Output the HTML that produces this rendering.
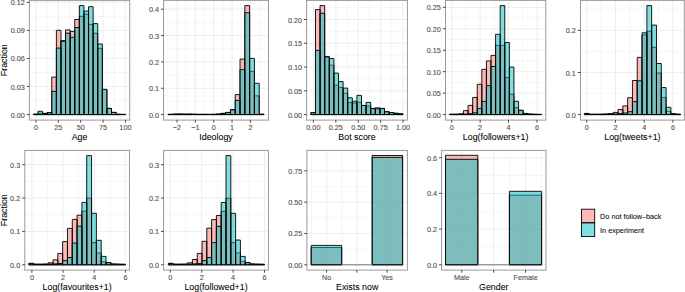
<!DOCTYPE html>
<html><head><meta charset="utf-8"><title>Histograms</title><style>html,body{margin:0;padding:0;background:#fff;width:685px;height:292px;overflow:hidden}svg{display:block}</style></head><body>
<svg width="685" height="292" viewBox="0 0 685 292">
<style>text{font-family:"Liberation Sans",sans-serif}.lab{font-size:7.25px;fill:#4D4D4D;stroke:#4D4D4D;stroke-width:0.1px}.ttl{font-size:8.85px;fill:#000;stroke:#000;stroke-width:0.06px}.leg{font-size:7.25px;fill:#000;stroke:#000;stroke-width:0.05px}</style>
<rect width="685" height="292" fill="#fff"/>
<rect x="29.4" y="0.4" width="100.3" height="119.7" fill="#fff"/>
<line x1="47.17" y1="0.4" x2="47.17" y2="120.1" stroke="#EBEBEB" stroke-width="0.45"/>
<line x1="69.53" y1="0.4" x2="69.53" y2="120.1" stroke="#EBEBEB" stroke-width="0.45"/>
<line x1="91.88" y1="0.4" x2="91.88" y2="120.1" stroke="#EBEBEB" stroke-width="0.45"/>
<line x1="114.23" y1="0.4" x2="114.23" y2="120.1" stroke="#EBEBEB" stroke-width="0.45"/>
<line x1="29.4" y1="100.56" x2="129.7" y2="100.56" stroke="#EBEBEB" stroke-width="0.45"/>
<line x1="29.4" y1="72.49" x2="129.7" y2="72.49" stroke="#EBEBEB" stroke-width="0.45"/>
<line x1="29.4" y1="44.41" x2="129.7" y2="44.41" stroke="#EBEBEB" stroke-width="0.45"/>
<line x1="29.4" y1="16.34" x2="129.7" y2="16.34" stroke="#EBEBEB" stroke-width="0.45"/>
<line x1="36" y1="0.4" x2="36" y2="120.1" stroke="#EBEBEB" stroke-width="0.9"/>
<line x1="58.35" y1="0.4" x2="58.35" y2="120.1" stroke="#EBEBEB" stroke-width="0.9"/>
<line x1="80.7" y1="0.4" x2="80.7" y2="120.1" stroke="#EBEBEB" stroke-width="0.9"/>
<line x1="103.05" y1="0.4" x2="103.05" y2="120.1" stroke="#EBEBEB" stroke-width="0.9"/>
<line x1="125.4" y1="0.4" x2="125.4" y2="120.1" stroke="#EBEBEB" stroke-width="0.9"/>
<line x1="29.4" y1="114.6" x2="129.7" y2="114.6" stroke="#EBEBEB" stroke-width="0.9"/>
<line x1="29.4" y1="86.52" x2="129.7" y2="86.52" stroke="#EBEBEB" stroke-width="0.9"/>
<line x1="29.4" y1="58.45" x2="129.7" y2="58.45" stroke="#EBEBEB" stroke-width="0.9"/>
<line x1="29.4" y1="30.38" x2="129.7" y2="30.38" stroke="#EBEBEB" stroke-width="0.9"/>
<line x1="29.4" y1="2.3" x2="129.7" y2="2.3" stroke="#EBEBEB" stroke-width="0.9"/>
<path d="M33.4 114.6V114.2H37.99V114.6ZM37.99 114.6V113.2H42.59V114.6ZM42.59 114.6V113.3H47.19V114.6ZM47.19 114.6V112.5H51.78V114.6ZM51.78 114.6V77.1H56.38V114.6ZM56.38 114.6V30.3H60.97V114.6ZM60.97 114.6V40.6H65.56V114.6ZM65.56 114.6V29.9H70.16V114.6ZM70.16 114.6V31.4H74.75V114.6ZM74.75 114.6V19.5H79.35V114.6ZM79.35 114.6V16.3H83.94V114.6ZM83.94 114.6V14.2H88.54V114.6ZM88.54 114.6V24.4H93.13V114.6ZM93.13 114.6V33.3H97.73V114.6ZM97.73 114.6V48.4H102.32V114.6ZM102.32 114.6V89.5H106.92V114.6ZM106.92 114.6V108.4H111.51V114.6ZM111.51 114.6V112.4H116.11V114.6ZM116.11 114.6V114.3H120.7V114.6ZM120.7 114.6V114.4H125.3V114.6Z" fill="#F8766D" fill-opacity="0.5" stroke="#000" stroke-width="0.9" stroke-linejoin="miter"/>
<path d="M33.4 114.6V114.3H37.99V114.6ZM37.99 114.6V111.3H42.59V114.6ZM42.59 114.6V113.5H47.19V114.6ZM47.19 114.6V112.8H51.78V114.6ZM51.78 114.6V91.4H56.38V114.6ZM56.38 114.6V48.1H60.97V114.6ZM60.97 114.6V41.3H65.56V114.6ZM65.56 114.6V33.2H70.16V114.6ZM70.16 114.6V37.3H74.75V114.6ZM74.75 114.6V27.5H79.35V114.6ZM79.35 114.6V5.6H83.94V114.6ZM83.94 114.6V11.1H88.54V114.6ZM88.54 114.6V6.7H93.13V114.6ZM93.13 114.6V23.6H97.73V114.6ZM97.73 114.6V44H102.32V114.6ZM102.32 114.6V89.3H106.92V114.6ZM106.92 114.6V108.4H111.51V114.6ZM111.51 114.6V112.4H116.11V114.6ZM116.11 114.6V114.3H120.7V114.6ZM120.7 114.6V114.4H125.3V114.6Z" fill="#00BFC4" fill-opacity="0.5" stroke="#000" stroke-width="0.9" stroke-linejoin="miter"/>
<rect x="29.4" y="0.4" width="100.3" height="119.7" fill="none" stroke="#999999" stroke-width="1.0"/>
<line x1="26.8" y1="114.6" x2="29.4" y2="114.6" stroke="#333333" stroke-width="0.9"/>
<text x="24.8" y="117.6" text-anchor="end" class="lab">0.00</text>
<line x1="26.8" y1="86.52" x2="29.4" y2="86.52" stroke="#333333" stroke-width="0.9"/>
<text x="24.8" y="89.52" text-anchor="end" class="lab">0.03</text>
<line x1="26.8" y1="58.45" x2="29.4" y2="58.45" stroke="#333333" stroke-width="0.9"/>
<text x="24.8" y="61.45" text-anchor="end" class="lab">0.06</text>
<line x1="26.8" y1="30.38" x2="29.4" y2="30.38" stroke="#333333" stroke-width="0.9"/>
<text x="24.8" y="33.38" text-anchor="end" class="lab">0.09</text>
<line x1="26.8" y1="2.3" x2="29.4" y2="2.3" stroke="#333333" stroke-width="0.9"/>
<text x="24.8" y="5.3" text-anchor="end" class="lab">0.12</text>
<line x1="36" y1="120.1" x2="36" y2="122.7" stroke="#333333" stroke-width="0.9"/>
<text x="36" y="129.6" text-anchor="middle" class="lab">0</text>
<line x1="58.35" y1="120.1" x2="58.35" y2="122.7" stroke="#333333" stroke-width="0.9"/>
<text x="58.35" y="129.6" text-anchor="middle" class="lab">25</text>
<line x1="80.7" y1="120.1" x2="80.7" y2="122.7" stroke="#333333" stroke-width="0.9"/>
<text x="80.7" y="129.6" text-anchor="middle" class="lab">50</text>
<line x1="103.05" y1="120.1" x2="103.05" y2="122.7" stroke="#333333" stroke-width="0.9"/>
<text x="103.05" y="129.6" text-anchor="middle" class="lab">75</text>
<line x1="125.4" y1="120.1" x2="125.4" y2="122.7" stroke="#333333" stroke-width="0.9"/>
<text x="125.4" y="129.6" text-anchor="middle" class="lab">100</text>
<text x="79.55" y="139.7" text-anchor="middle" class="ttl">Age</text>
<text transform="translate(6.8 60.25) rotate(-90)" x="0" y="0" text-anchor="middle" class="ttl">Fraction</text>
<rect x="163.6" y="0.4" width="104.9" height="119.7" fill="#fff"/>
<line x1="167.82" y1="0.4" x2="167.82" y2="120.1" stroke="#EBEBEB" stroke-width="0.45"/>
<line x1="186.17" y1="0.4" x2="186.17" y2="120.1" stroke="#EBEBEB" stroke-width="0.45"/>
<line x1="204.52" y1="0.4" x2="204.52" y2="120.1" stroke="#EBEBEB" stroke-width="0.45"/>
<line x1="222.88" y1="0.4" x2="222.88" y2="120.1" stroke="#EBEBEB" stroke-width="0.45"/>
<line x1="241.23" y1="0.4" x2="241.23" y2="120.1" stroke="#EBEBEB" stroke-width="0.45"/>
<line x1="259.58" y1="0.4" x2="259.58" y2="120.1" stroke="#EBEBEB" stroke-width="0.45"/>
<line x1="163.6" y1="101.42" x2="268.5" y2="101.42" stroke="#EBEBEB" stroke-width="0.45"/>
<line x1="163.6" y1="75.08" x2="268.5" y2="75.08" stroke="#EBEBEB" stroke-width="0.45"/>
<line x1="163.6" y1="48.73" x2="268.5" y2="48.73" stroke="#EBEBEB" stroke-width="0.45"/>
<line x1="163.6" y1="22.38" x2="268.5" y2="22.38" stroke="#EBEBEB" stroke-width="0.45"/>
<line x1="177" y1="0.4" x2="177" y2="120.1" stroke="#EBEBEB" stroke-width="0.9"/>
<line x1="195.35" y1="0.4" x2="195.35" y2="120.1" stroke="#EBEBEB" stroke-width="0.9"/>
<line x1="213.7" y1="0.4" x2="213.7" y2="120.1" stroke="#EBEBEB" stroke-width="0.9"/>
<line x1="232.05" y1="0.4" x2="232.05" y2="120.1" stroke="#EBEBEB" stroke-width="0.9"/>
<line x1="250.4" y1="0.4" x2="250.4" y2="120.1" stroke="#EBEBEB" stroke-width="0.9"/>
<line x1="163.6" y1="114.6" x2="268.5" y2="114.6" stroke="#EBEBEB" stroke-width="0.9"/>
<line x1="163.6" y1="88.25" x2="268.5" y2="88.25" stroke="#EBEBEB" stroke-width="0.9"/>
<line x1="163.6" y1="61.9" x2="268.5" y2="61.9" stroke="#EBEBEB" stroke-width="0.9"/>
<line x1="163.6" y1="35.55" x2="268.5" y2="35.55" stroke="#EBEBEB" stroke-width="0.9"/>
<line x1="163.6" y1="9.2" x2="268.5" y2="9.2" stroke="#EBEBEB" stroke-width="0.9"/>
<path d="M168.1 114.6V114.3H172.89V114.6ZM172.89 114.6V114H177.69V114.6ZM177.69 114.6V113.9H182.48V114.6ZM182.48 114.6V114.1H187.28V114.6ZM187.28 114.6V114H192.07V114.6ZM192.07 114.6V114.2H196.87V114.6ZM196.87 114.6V114.3H201.66V114.6ZM201.66 114.6V114.3H206.46V114.6ZM206.46 114.6V114.4H211.25V114.6ZM211.25 114.6V114.3H216.05V114.6ZM216.05 114.6V114H220.84V114.6ZM220.84 114.6V113.3H225.64V114.6ZM225.64 114.6V112.4H230.44V114.6ZM230.44 114.6V109.6H235.23V114.6ZM235.23 114.6V94.6H240.02V114.6ZM240.02 114.6V59.1H244.82V114.6ZM244.82 114.6V5.6H249.62V114.6ZM249.62 114.6V71.3H254.41V114.6ZM254.41 114.6V95.9H259.2V114.6ZM259.2 114.6V114.3H264V114.6Z" fill="#F8766D" fill-opacity="0.5" stroke="#000" stroke-width="0.9" stroke-linejoin="miter"/>
<path d="M168.1 114.6V114.4H172.89V114.6ZM172.89 114.6V114.3H177.69V114.6ZM177.69 114.6V114.2H182.48V114.6ZM182.48 114.6V114.3H187.28V114.6ZM187.28 114.6V114.3H192.07V114.6ZM192.07 114.6V114.3H196.87V114.6ZM196.87 114.6V114.4H201.66V114.6ZM201.66 114.6V114.4H206.46V114.6ZM206.46 114.6V114.4H211.25V114.6ZM211.25 114.6V114.4H216.05V114.6ZM216.05 114.6V114.2H220.84V114.6ZM220.84 114.6V113.5H225.64V114.6ZM225.64 114.6V112.6H230.44V114.6ZM230.44 114.6V109.8H235.23V114.6ZM235.23 114.6V100.4H240.02V114.6ZM240.02 114.6V69.6H244.82V114.6ZM244.82 114.6V12.7H249.62V114.6ZM249.62 114.6V58.4H254.41V114.6ZM254.41 114.6V83.3H259.2V114.6ZM259.2 114.6V114.2H264V114.6Z" fill="#00BFC4" fill-opacity="0.5" stroke="#000" stroke-width="0.9" stroke-linejoin="miter"/>
<rect x="163.6" y="0.4" width="104.9" height="119.7" fill="none" stroke="#999999" stroke-width="1.0"/>
<line x1="161" y1="114.6" x2="163.6" y2="114.6" stroke="#333333" stroke-width="0.9"/>
<text x="159" y="117.6" text-anchor="end" class="lab">0.0</text>
<line x1="161" y1="88.25" x2="163.6" y2="88.25" stroke="#333333" stroke-width="0.9"/>
<text x="159" y="91.25" text-anchor="end" class="lab">0.1</text>
<line x1="161" y1="61.9" x2="163.6" y2="61.9" stroke="#333333" stroke-width="0.9"/>
<text x="159" y="64.9" text-anchor="end" class="lab">0.2</text>
<line x1="161" y1="35.55" x2="163.6" y2="35.55" stroke="#333333" stroke-width="0.9"/>
<text x="159" y="38.55" text-anchor="end" class="lab">0.3</text>
<line x1="161" y1="9.2" x2="163.6" y2="9.2" stroke="#333333" stroke-width="0.9"/>
<text x="159" y="12.2" text-anchor="end" class="lab">0.4</text>
<line x1="177" y1="120.1" x2="177" y2="122.7" stroke="#333333" stroke-width="0.9"/>
<text x="177" y="129.6" text-anchor="middle" class="lab">−2</text>
<line x1="195.35" y1="120.1" x2="195.35" y2="122.7" stroke="#333333" stroke-width="0.9"/>
<text x="195.35" y="129.6" text-anchor="middle" class="lab">−1</text>
<line x1="213.7" y1="120.1" x2="213.7" y2="122.7" stroke="#333333" stroke-width="0.9"/>
<text x="213.7" y="129.6" text-anchor="middle" class="lab">0</text>
<line x1="232.05" y1="120.1" x2="232.05" y2="122.7" stroke="#333333" stroke-width="0.9"/>
<text x="232.05" y="129.6" text-anchor="middle" class="lab">1</text>
<line x1="250.4" y1="120.1" x2="250.4" y2="122.7" stroke="#333333" stroke-width="0.9"/>
<text x="250.4" y="129.6" text-anchor="middle" class="lab">2</text>
<text x="216.05" y="139.7" text-anchor="middle" class="ttl">Ideology</text>
<rect x="306.6" y="0.4" width="100.8" height="119.7" fill="#fff"/>
<line x1="324.61" y1="0.4" x2="324.61" y2="120.1" stroke="#EBEBEB" stroke-width="0.45"/>
<line x1="347.04" y1="0.4" x2="347.04" y2="120.1" stroke="#EBEBEB" stroke-width="0.45"/>
<line x1="369.46" y1="0.4" x2="369.46" y2="120.1" stroke="#EBEBEB" stroke-width="0.45"/>
<line x1="391.89" y1="0.4" x2="391.89" y2="120.1" stroke="#EBEBEB" stroke-width="0.45"/>
<line x1="306.6" y1="102.71" x2="407.4" y2="102.71" stroke="#EBEBEB" stroke-width="0.45"/>
<line x1="306.6" y1="78.94" x2="407.4" y2="78.94" stroke="#EBEBEB" stroke-width="0.45"/>
<line x1="306.6" y1="55.16" x2="407.4" y2="55.16" stroke="#EBEBEB" stroke-width="0.45"/>
<line x1="306.6" y1="31.39" x2="407.4" y2="31.39" stroke="#EBEBEB" stroke-width="0.45"/>
<line x1="306.6" y1="7.61" x2="407.4" y2="7.61" stroke="#EBEBEB" stroke-width="0.45"/>
<line x1="313.4" y1="0.4" x2="313.4" y2="120.1" stroke="#EBEBEB" stroke-width="0.9"/>
<line x1="335.82" y1="0.4" x2="335.82" y2="120.1" stroke="#EBEBEB" stroke-width="0.9"/>
<line x1="358.25" y1="0.4" x2="358.25" y2="120.1" stroke="#EBEBEB" stroke-width="0.9"/>
<line x1="380.68" y1="0.4" x2="380.68" y2="120.1" stroke="#EBEBEB" stroke-width="0.9"/>
<line x1="403.1" y1="0.4" x2="403.1" y2="120.1" stroke="#EBEBEB" stroke-width="0.9"/>
<line x1="306.6" y1="114.6" x2="407.4" y2="114.6" stroke="#EBEBEB" stroke-width="0.9"/>
<line x1="306.6" y1="90.82" x2="407.4" y2="90.82" stroke="#EBEBEB" stroke-width="0.9"/>
<line x1="306.6" y1="67.05" x2="407.4" y2="67.05" stroke="#EBEBEB" stroke-width="0.9"/>
<line x1="306.6" y1="43.28" x2="407.4" y2="43.28" stroke="#EBEBEB" stroke-width="0.9"/>
<line x1="306.6" y1="19.5" x2="407.4" y2="19.5" stroke="#EBEBEB" stroke-width="0.9"/>
<path d="M310.9 114.6V112.5H315.5V114.6ZM315.5 114.6V9.6H320.1V114.6ZM320.1 114.6V5.6H324.7V114.6ZM324.7 114.6V56.6H329.3V114.6ZM329.3 114.6V65.2H333.9V114.6ZM333.9 114.6V85.2H338.5V114.6ZM338.5 114.6V87.5H343.1V114.6ZM343.1 114.6V93.3H347.7V114.6ZM347.7 114.6V102.6H352.3V114.6ZM352.3 114.6V103H356.9V114.6ZM356.9 114.6V102.3H361.5V114.6ZM361.5 114.6V105.4H366.1V114.6ZM366.1 114.6V106H370.7V114.6ZM370.7 114.6V108.4H375.3V114.6ZM375.3 114.6V107.8H379.9V114.6ZM379.9 114.6V108.4H384.5V114.6ZM384.5 114.6V111.6H389.1V114.6ZM389.1 114.6V112.5H393.7V114.6ZM393.7 114.6V113.2H398.3V114.6ZM398.3 114.6V113.8H402.9V114.6Z" fill="#F8766D" fill-opacity="0.5" stroke="#000" stroke-width="0.9" stroke-linejoin="miter"/>
<path d="M310.9 114.6V112.8H315.5V114.6ZM315.5 114.6V50.4H320.1V114.6ZM320.1 114.6V13.3H324.7V114.6ZM324.7 114.6V57H329.3V114.6ZM329.3 114.6V58.5H333.9V114.6ZM333.9 114.6V73.1H338.5V114.6ZM338.5 114.6V81.6H343.1V114.6ZM343.1 114.6V88.1H347.7V114.6ZM347.7 114.6V97.8H352.3V114.6ZM352.3 114.6V101.2H356.9V114.6ZM356.9 114.6V95.4H361.5V114.6ZM361.5 114.6V105.5H366.1V114.6ZM366.1 114.6V102.4H370.7V114.6ZM370.7 114.6V108.6H375.3V114.6ZM375.3 114.6V108.9H379.9V114.6ZM379.9 114.6V108.6H384.5V114.6ZM384.5 114.6V111.8H389.1V114.6ZM389.1 114.6V112.6H393.7V114.6ZM393.7 114.6V113.4H398.3V114.6ZM398.3 114.6V113.9H402.9V114.6Z" fill="#00BFC4" fill-opacity="0.5" stroke="#000" stroke-width="0.9" stroke-linejoin="miter"/>
<rect x="306.6" y="0.4" width="100.8" height="119.7" fill="none" stroke="#999999" stroke-width="1.0"/>
<line x1="304" y1="114.6" x2="306.6" y2="114.6" stroke="#333333" stroke-width="0.9"/>
<text x="302" y="117.6" text-anchor="end" class="lab">0.00</text>
<line x1="304" y1="90.82" x2="306.6" y2="90.82" stroke="#333333" stroke-width="0.9"/>
<text x="302" y="93.82" text-anchor="end" class="lab">0.05</text>
<line x1="304" y1="67.05" x2="306.6" y2="67.05" stroke="#333333" stroke-width="0.9"/>
<text x="302" y="70.05" text-anchor="end" class="lab">0.10</text>
<line x1="304" y1="43.28" x2="306.6" y2="43.28" stroke="#333333" stroke-width="0.9"/>
<text x="302" y="46.28" text-anchor="end" class="lab">0.15</text>
<line x1="304" y1="19.5" x2="306.6" y2="19.5" stroke="#333333" stroke-width="0.9"/>
<text x="302" y="22.5" text-anchor="end" class="lab">0.20</text>
<line x1="313.4" y1="120.1" x2="313.4" y2="122.7" stroke="#333333" stroke-width="0.9"/>
<text x="313.4" y="129.6" text-anchor="middle" class="lab">0.00</text>
<line x1="335.82" y1="120.1" x2="335.82" y2="122.7" stroke="#333333" stroke-width="0.9"/>
<text x="335.82" y="129.6" text-anchor="middle" class="lab">0.25</text>
<line x1="358.25" y1="120.1" x2="358.25" y2="122.7" stroke="#333333" stroke-width="0.9"/>
<text x="358.25" y="129.6" text-anchor="middle" class="lab">0.50</text>
<line x1="380.68" y1="120.1" x2="380.68" y2="122.7" stroke="#333333" stroke-width="0.9"/>
<text x="380.68" y="129.6" text-anchor="middle" class="lab">0.75</text>
<line x1="403.1" y1="120.1" x2="403.1" y2="122.7" stroke="#333333" stroke-width="0.9"/>
<text x="403.1" y="129.6" text-anchor="middle" class="lab">1.00</text>
<text x="357" y="139.7" text-anchor="middle" class="ttl">Bot score</text>
<rect x="445.5" y="0.4" width="100.3" height="119.7" fill="#fff"/>
<line x1="465.92" y1="0.4" x2="465.92" y2="120.1" stroke="#EBEBEB" stroke-width="0.45"/>
<line x1="494.35" y1="0.4" x2="494.35" y2="120.1" stroke="#EBEBEB" stroke-width="0.45"/>
<line x1="522.78" y1="0.4" x2="522.78" y2="120.1" stroke="#EBEBEB" stroke-width="0.45"/>
<line x1="445.5" y1="103.87" x2="545.8" y2="103.87" stroke="#EBEBEB" stroke-width="0.45"/>
<line x1="445.5" y1="82.41" x2="545.8" y2="82.41" stroke="#EBEBEB" stroke-width="0.45"/>
<line x1="445.5" y1="60.95" x2="545.8" y2="60.95" stroke="#EBEBEB" stroke-width="0.45"/>
<line x1="445.5" y1="39.49" x2="545.8" y2="39.49" stroke="#EBEBEB" stroke-width="0.45"/>
<line x1="445.5" y1="18.03" x2="545.8" y2="18.03" stroke="#EBEBEB" stroke-width="0.45"/>
<line x1="451.7" y1="0.4" x2="451.7" y2="120.1" stroke="#EBEBEB" stroke-width="0.9"/>
<line x1="480.13" y1="0.4" x2="480.13" y2="120.1" stroke="#EBEBEB" stroke-width="0.9"/>
<line x1="508.57" y1="0.4" x2="508.57" y2="120.1" stroke="#EBEBEB" stroke-width="0.9"/>
<line x1="537" y1="0.4" x2="537" y2="120.1" stroke="#EBEBEB" stroke-width="0.9"/>
<line x1="445.5" y1="114.6" x2="545.8" y2="114.6" stroke="#EBEBEB" stroke-width="0.9"/>
<line x1="445.5" y1="93.14" x2="545.8" y2="93.14" stroke="#EBEBEB" stroke-width="0.9"/>
<line x1="445.5" y1="71.68" x2="545.8" y2="71.68" stroke="#EBEBEB" stroke-width="0.9"/>
<line x1="445.5" y1="50.22" x2="545.8" y2="50.22" stroke="#EBEBEB" stroke-width="0.9"/>
<line x1="445.5" y1="28.76" x2="545.8" y2="28.76" stroke="#EBEBEB" stroke-width="0.9"/>
<line x1="445.5" y1="7.3" x2="545.8" y2="7.3" stroke="#EBEBEB" stroke-width="0.9"/>
<path d="M449.7 114.6V114.2H454.29V114.6ZM454.29 114.6V114.1H458.88V114.6ZM458.88 114.6V113.8H463.47V114.6ZM463.47 114.6V110.6H468.06V114.6ZM468.06 114.6V105.4H472.65V114.6ZM472.65 114.6V97.4H477.24V114.6ZM477.24 114.6V84.3H481.83V114.6ZM481.83 114.6V69.3H486.42V114.6ZM486.42 114.6V60.9H491.01V114.6ZM491.01 114.6V55.4H495.6V114.6ZM495.6 114.6V45.4H500.19V114.6ZM500.19 114.6V45.4H504.78V114.6ZM504.78 114.6V77.4H509.37V114.6ZM509.37 114.6V94.3H513.96V114.6ZM513.96 114.6V107.7H518.55V114.6ZM518.55 114.6V110.5H523.14V114.6ZM523.14 114.6V113.6H527.73V114.6ZM527.73 114.6V114.1H532.32V114.6ZM532.32 114.6V114.3H536.91V114.6ZM536.91 114.6V114.4H541.5V114.6Z" fill="#F8766D" fill-opacity="0.5" stroke="#000" stroke-width="0.9" stroke-linejoin="miter"/>
<path d="M449.7 114.6V114.4H454.29V114.6ZM454.29 114.6V114.4H458.88V114.6ZM458.88 114.6V114.3H463.47V114.6ZM463.47 114.6V114.1H468.06V114.6ZM468.06 114.6V113.7H472.65V114.6ZM472.65 114.6V112.8H477.24V114.6ZM477.24 114.6V108.4H481.83V114.6ZM481.83 114.6V101.4H486.42V114.6ZM486.42 114.6V85.6H491.01V114.6ZM491.01 114.6V66.5H495.6V114.6ZM495.6 114.6V34.3H500.19V114.6ZM500.19 114.6V5.6H504.78V114.6ZM504.78 114.6V42.5H509.37V114.6ZM509.37 114.6V67.1H513.96V114.6ZM513.96 114.6V101.3H518.55V114.6ZM518.55 114.6V110.2H523.14V114.6ZM523.14 114.6V113.4H527.73V114.6ZM527.73 114.6V114H532.32V114.6ZM532.32 114.6V114.3H536.91V114.6ZM536.91 114.6V114.4H541.5V114.6Z" fill="#00BFC4" fill-opacity="0.5" stroke="#000" stroke-width="0.9" stroke-linejoin="miter"/>
<rect x="445.5" y="0.4" width="100.3" height="119.7" fill="none" stroke="#999999" stroke-width="1.0"/>
<line x1="442.9" y1="114.6" x2="445.5" y2="114.6" stroke="#333333" stroke-width="0.9"/>
<text x="440.9" y="117.6" text-anchor="end" class="lab">0.00</text>
<line x1="442.9" y1="93.14" x2="445.5" y2="93.14" stroke="#333333" stroke-width="0.9"/>
<text x="440.9" y="96.14" text-anchor="end" class="lab">0.05</text>
<line x1="442.9" y1="71.68" x2="445.5" y2="71.68" stroke="#333333" stroke-width="0.9"/>
<text x="440.9" y="74.68" text-anchor="end" class="lab">0.10</text>
<line x1="442.9" y1="50.22" x2="445.5" y2="50.22" stroke="#333333" stroke-width="0.9"/>
<text x="440.9" y="53.22" text-anchor="end" class="lab">0.15</text>
<line x1="442.9" y1="28.76" x2="445.5" y2="28.76" stroke="#333333" stroke-width="0.9"/>
<text x="440.9" y="31.76" text-anchor="end" class="lab">0.20</text>
<line x1="442.9" y1="7.3" x2="445.5" y2="7.3" stroke="#333333" stroke-width="0.9"/>
<text x="440.9" y="10.3" text-anchor="end" class="lab">0.25</text>
<line x1="451.7" y1="120.1" x2="451.7" y2="122.7" stroke="#333333" stroke-width="0.9"/>
<text x="451.7" y="129.6" text-anchor="middle" class="lab">0</text>
<line x1="480.13" y1="120.1" x2="480.13" y2="122.7" stroke="#333333" stroke-width="0.9"/>
<text x="480.13" y="129.6" text-anchor="middle" class="lab">2</text>
<line x1="508.57" y1="120.1" x2="508.57" y2="122.7" stroke="#333333" stroke-width="0.9"/>
<text x="508.57" y="129.6" text-anchor="middle" class="lab">4</text>
<line x1="537" y1="120.1" x2="537" y2="122.7" stroke="#333333" stroke-width="0.9"/>
<text x="537" y="129.6" text-anchor="middle" class="lab">6</text>
<text x="495.65" y="139.7" text-anchor="middle" class="ttl">Log(followers+1)</text>
<rect x="580.5" y="0.4" width="103.8" height="119.7" fill="#fff"/>
<line x1="601.07" y1="0.4" x2="601.07" y2="120.1" stroke="#EBEBEB" stroke-width="0.45"/>
<line x1="629.8" y1="0.4" x2="629.8" y2="120.1" stroke="#EBEBEB" stroke-width="0.45"/>
<line x1="658.53" y1="0.4" x2="658.53" y2="120.1" stroke="#EBEBEB" stroke-width="0.45"/>
<line x1="580.5" y1="93.55" x2="684.3" y2="93.55" stroke="#EBEBEB" stroke-width="0.45"/>
<line x1="580.5" y1="51.45" x2="684.3" y2="51.45" stroke="#EBEBEB" stroke-width="0.45"/>
<line x1="580.5" y1="9.35" x2="684.3" y2="9.35" stroke="#EBEBEB" stroke-width="0.45"/>
<line x1="586.7" y1="0.4" x2="586.7" y2="120.1" stroke="#EBEBEB" stroke-width="0.9"/>
<line x1="615.43" y1="0.4" x2="615.43" y2="120.1" stroke="#EBEBEB" stroke-width="0.9"/>
<line x1="644.17" y1="0.4" x2="644.17" y2="120.1" stroke="#EBEBEB" stroke-width="0.9"/>
<line x1="672.9" y1="0.4" x2="672.9" y2="120.1" stroke="#EBEBEB" stroke-width="0.9"/>
<line x1="580.5" y1="114.6" x2="684.3" y2="114.6" stroke="#EBEBEB" stroke-width="0.9"/>
<line x1="580.5" y1="72.5" x2="684.3" y2="72.5" stroke="#EBEBEB" stroke-width="0.9"/>
<line x1="580.5" y1="30.4" x2="684.3" y2="30.4" stroke="#EBEBEB" stroke-width="0.9"/>
<path d="M584.4 114.6V113.4H589.2V114.6ZM589.2 114.6V114.2H594.01V114.6ZM594.01 114.6V114.2H598.81V114.6ZM598.81 114.6V114.1H603.62V114.6ZM603.62 114.6V113.9H608.42V114.6ZM608.42 114.6V113.5H613.23V114.6ZM613.23 114.6V112.4H618.03V114.6ZM618.03 114.6V109.5H622.84V114.6ZM622.84 114.6V105.9H627.64V114.6ZM627.64 114.6V97.7H632.45V114.6ZM632.45 114.6V80.5H637.25V114.6ZM637.25 114.6V57.4H642.06V114.6ZM642.06 114.6V34.9H646.87V114.6ZM646.87 114.6V31.3H651.67V114.6ZM651.67 114.6V47.3H656.47V114.6ZM656.47 114.6V73.1H661.28V114.6ZM661.28 114.6V97.5H666.09V114.6ZM666.09 114.6V111.4H670.89V114.6ZM670.89 114.6V114H675.69V114.6ZM675.69 114.6V114.3H680.5V114.6Z" fill="#F8766D" fill-opacity="0.5" stroke="#000" stroke-width="0.9" stroke-linejoin="miter"/>
<path d="M584.4 114.6V113.8H589.2V114.6ZM589.2 114.6V114.4H594.01V114.6ZM594.01 114.6V114.4H598.81V114.6ZM598.81 114.6V114.4H603.62V114.6ZM603.62 114.6V114.3H608.42V114.6ZM608.42 114.6V114.2H613.23V114.6ZM613.23 114.6V114H618.03V114.6ZM618.03 114.6V113.6H622.84V114.6ZM622.84 114.6V113H627.64V114.6ZM627.64 114.6V111.7H632.45V114.6ZM632.45 114.6V101.6H637.25V114.6ZM637.25 114.6V80.8H642.06V114.6ZM642.06 114.6V32.8H646.87V114.6ZM646.87 114.6V5.6H651.67V114.6ZM651.67 114.6V25.1H656.47V114.6ZM656.47 114.6V63.5H661.28V114.6ZM661.28 114.6V87.6H666.09V114.6ZM666.09 114.6V107.3H670.89V114.6ZM670.89 114.6V113.6H675.69V114.6ZM675.69 114.6V114.2H680.5V114.6Z" fill="#00BFC4" fill-opacity="0.5" stroke="#000" stroke-width="0.9" stroke-linejoin="miter"/>
<rect x="580.5" y="0.4" width="103.8" height="119.7" fill="none" stroke="#999999" stroke-width="1.0"/>
<line x1="577.9" y1="114.6" x2="580.5" y2="114.6" stroke="#333333" stroke-width="0.9"/>
<text x="575.9" y="117.6" text-anchor="end" class="lab">0.0</text>
<line x1="577.9" y1="72.5" x2="580.5" y2="72.5" stroke="#333333" stroke-width="0.9"/>
<text x="575.9" y="75.5" text-anchor="end" class="lab">0.1</text>
<line x1="577.9" y1="30.4" x2="580.5" y2="30.4" stroke="#333333" stroke-width="0.9"/>
<text x="575.9" y="33.4" text-anchor="end" class="lab">0.2</text>
<line x1="586.7" y1="120.1" x2="586.7" y2="122.7" stroke="#333333" stroke-width="0.9"/>
<text x="586.7" y="129.6" text-anchor="middle" class="lab">0</text>
<line x1="615.43" y1="120.1" x2="615.43" y2="122.7" stroke="#333333" stroke-width="0.9"/>
<text x="615.43" y="129.6" text-anchor="middle" class="lab">2</text>
<line x1="644.17" y1="120.1" x2="644.17" y2="122.7" stroke="#333333" stroke-width="0.9"/>
<text x="644.17" y="129.6" text-anchor="middle" class="lab">4</text>
<line x1="672.9" y1="120.1" x2="672.9" y2="122.7" stroke="#333333" stroke-width="0.9"/>
<text x="672.9" y="129.6" text-anchor="middle" class="lab">6</text>
<text x="632.4" y="139.7" text-anchor="middle" class="ttl">Log(tweets+1)</text>
<rect x="24.8" y="150.4" width="104.7" height="119.7" fill="#fff"/>
<line x1="47.48" y1="150.4" x2="47.48" y2="270.1" stroke="#EBEBEB" stroke-width="0.45"/>
<line x1="78.65" y1="150.4" x2="78.65" y2="270.1" stroke="#EBEBEB" stroke-width="0.45"/>
<line x1="109.82" y1="150.4" x2="109.82" y2="270.1" stroke="#EBEBEB" stroke-width="0.45"/>
<line x1="24.8" y1="248.12" x2="129.5" y2="248.12" stroke="#EBEBEB" stroke-width="0.45"/>
<line x1="24.8" y1="214.75" x2="129.5" y2="214.75" stroke="#EBEBEB" stroke-width="0.45"/>
<line x1="24.8" y1="181.38" x2="129.5" y2="181.38" stroke="#EBEBEB" stroke-width="0.45"/>
<line x1="31.9" y1="150.4" x2="31.9" y2="270.1" stroke="#EBEBEB" stroke-width="0.9"/>
<line x1="63.07" y1="150.4" x2="63.07" y2="270.1" stroke="#EBEBEB" stroke-width="0.9"/>
<line x1="94.23" y1="150.4" x2="94.23" y2="270.1" stroke="#EBEBEB" stroke-width="0.9"/>
<line x1="125.4" y1="150.4" x2="125.4" y2="270.1" stroke="#EBEBEB" stroke-width="0.9"/>
<line x1="24.8" y1="264.8" x2="129.5" y2="264.8" stroke="#EBEBEB" stroke-width="0.9"/>
<line x1="24.8" y1="231.43" x2="129.5" y2="231.43" stroke="#EBEBEB" stroke-width="0.9"/>
<line x1="24.8" y1="198.07" x2="129.5" y2="198.07" stroke="#EBEBEB" stroke-width="0.9"/>
<line x1="24.8" y1="164.7" x2="129.5" y2="164.7" stroke="#EBEBEB" stroke-width="0.9"/>
<path d="M28.9 264.8V263.3H33.72V264.8ZM33.72 264.8V264.2H38.54V264.8ZM38.54 264.8V264.2H43.36V264.8ZM43.36 264.8V264H48.18V264.8ZM48.18 264.8V262.8H53V264.8ZM53 264.8V259.9H57.82V264.8ZM57.82 264.8V253.4H62.64V264.8ZM62.64 264.8V241.6H67.46V264.8ZM67.46 264.8V228.4H72.28V264.8ZM72.28 264.8V219.4H77.1V264.8ZM77.1 264.8V215.2H81.92V264.8ZM81.92 264.8V211.2H86.74V264.8ZM86.74 264.8V198.1H91.56V264.8ZM91.56 264.8V242.6H96.38V264.8ZM96.38 264.8V253H101.2V264.8ZM101.2 264.8V261.8H106.02V264.8ZM106.02 264.8V262.6H110.84V264.8ZM110.84 264.8V264H115.66V264.8ZM115.66 264.8V264.2H120.48V264.8ZM120.48 264.8V264.3H125.3V264.8Z" fill="#F8766D" fill-opacity="0.5" stroke="#000" stroke-width="0.9" stroke-linejoin="miter"/>
<path d="M28.9 264.8V263.6H33.72V264.8ZM33.72 264.8V264.3H38.54V264.8ZM38.54 264.8V264.3H43.36V264.8ZM43.36 264.8V264.3H48.18V264.8ZM48.18 264.8V264.1H53V264.8ZM53 264.8V263.9H57.82V264.8ZM57.82 264.8V263.5H62.64V264.8ZM62.64 264.8V260.6H67.46V264.8ZM67.46 264.8V257.5H72.28V264.8ZM72.28 264.8V243.1H77.1V264.8ZM77.1 264.8V226.2H81.92V264.8ZM81.92 264.8V202.4H86.74V264.8ZM86.74 264.8V155.6H91.56V264.8ZM91.56 264.8V213.3H96.38V264.8ZM96.38 264.8V240.3H101.2V264.8ZM101.2 264.8V256.4H106.02V264.8ZM106.02 264.8V262.6H110.84V264.8ZM110.84 264.8V264H115.66V264.8ZM115.66 264.8V264.2H120.48V264.8ZM120.48 264.8V264.3H125.3V264.8Z" fill="#00BFC4" fill-opacity="0.5" stroke="#000" stroke-width="0.9" stroke-linejoin="miter"/>
<rect x="24.8" y="150.4" width="104.7" height="119.7" fill="none" stroke="#999999" stroke-width="1.0"/>
<line x1="22.2" y1="264.8" x2="24.8" y2="264.8" stroke="#333333" stroke-width="0.9"/>
<text x="20.2" y="267.8" text-anchor="end" class="lab">0.0</text>
<line x1="22.2" y1="231.43" x2="24.8" y2="231.43" stroke="#333333" stroke-width="0.9"/>
<text x="20.2" y="234.43" text-anchor="end" class="lab">0.1</text>
<line x1="22.2" y1="198.07" x2="24.8" y2="198.07" stroke="#333333" stroke-width="0.9"/>
<text x="20.2" y="201.07" text-anchor="end" class="lab">0.2</text>
<line x1="22.2" y1="164.7" x2="24.8" y2="164.7" stroke="#333333" stroke-width="0.9"/>
<text x="20.2" y="167.7" text-anchor="end" class="lab">0.3</text>
<line x1="31.9" y1="270.1" x2="31.9" y2="272.7" stroke="#333333" stroke-width="0.9"/>
<text x="31.9" y="279.6" text-anchor="middle" class="lab">0</text>
<line x1="63.07" y1="270.1" x2="63.07" y2="272.7" stroke="#333333" stroke-width="0.9"/>
<text x="63.07" y="279.6" text-anchor="middle" class="lab">2</text>
<line x1="94.23" y1="270.1" x2="94.23" y2="272.7" stroke="#333333" stroke-width="0.9"/>
<text x="94.23" y="279.6" text-anchor="middle" class="lab">4</text>
<line x1="125.4" y1="270.1" x2="125.4" y2="272.7" stroke="#333333" stroke-width="0.9"/>
<text x="125.4" y="279.6" text-anchor="middle" class="lab">6</text>
<text x="77.15" y="289.7" text-anchor="middle" class="ttl">Log(favourites+1)</text>
<text transform="translate(6.8 210.25) rotate(-90)" x="0" y="0" text-anchor="middle" class="ttl">Fraction</text>
<rect x="163.6" y="150.4" width="104.8" height="119.7" fill="#fff"/>
<line x1="186" y1="150.4" x2="186" y2="270.1" stroke="#EBEBEB" stroke-width="0.45"/>
<line x1="217.4" y1="150.4" x2="217.4" y2="270.1" stroke="#EBEBEB" stroke-width="0.45"/>
<line x1="248.8" y1="150.4" x2="248.8" y2="270.1" stroke="#EBEBEB" stroke-width="0.45"/>
<line x1="163.6" y1="248.12" x2="268.4" y2="248.12" stroke="#EBEBEB" stroke-width="0.45"/>
<line x1="163.6" y1="214.75" x2="268.4" y2="214.75" stroke="#EBEBEB" stroke-width="0.45"/>
<line x1="163.6" y1="181.38" x2="268.4" y2="181.38" stroke="#EBEBEB" stroke-width="0.45"/>
<line x1="170.3" y1="150.4" x2="170.3" y2="270.1" stroke="#EBEBEB" stroke-width="0.9"/>
<line x1="201.7" y1="150.4" x2="201.7" y2="270.1" stroke="#EBEBEB" stroke-width="0.9"/>
<line x1="233.1" y1="150.4" x2="233.1" y2="270.1" stroke="#EBEBEB" stroke-width="0.9"/>
<line x1="264.5" y1="150.4" x2="264.5" y2="270.1" stroke="#EBEBEB" stroke-width="0.9"/>
<line x1="163.6" y1="264.8" x2="268.4" y2="264.8" stroke="#EBEBEB" stroke-width="0.9"/>
<line x1="163.6" y1="231.43" x2="268.4" y2="231.43" stroke="#EBEBEB" stroke-width="0.9"/>
<line x1="163.6" y1="198.07" x2="268.4" y2="198.07" stroke="#EBEBEB" stroke-width="0.9"/>
<line x1="163.6" y1="164.7" x2="268.4" y2="164.7" stroke="#EBEBEB" stroke-width="0.9"/>
<path d="M168.4 264.8V263.3H173.2V264.8ZM173.2 264.8V264.2H178V264.8ZM178 264.8V264.2H182.8V264.8ZM182.8 264.8V264H187.6V264.8ZM187.6 264.8V262.8H192.4V264.8ZM192.4 264.8V259.5H197.2V264.8ZM197.2 264.8V253.4H202V264.8ZM202 264.8V241.3H206.8V264.8ZM206.8 264.8V228.2H211.6V264.8ZM211.6 264.8V219.6H216.4V264.8ZM216.4 264.8V215.5H221.2V264.8ZM221.2 264.8V211.3H226V264.8ZM226 264.8V198.2H230.8V264.8ZM230.8 264.8V242.6H235.6V264.8ZM235.6 264.8V253H240.4V264.8ZM240.4 264.8V261.3H245.2V264.8ZM245.2 264.8V262.6H250V264.8ZM250 264.8V264H254.8V264.8ZM254.8 264.8V264.2H259.6V264.8ZM259.6 264.8V264.3H264.4V264.8Z" fill="#F8766D" fill-opacity="0.5" stroke="#000" stroke-width="0.9" stroke-linejoin="miter"/>
<path d="M168.4 264.8V263.6H173.2V264.8ZM173.2 264.8V264.3H178V264.8ZM178 264.8V264.3H182.8V264.8ZM182.8 264.8V264.3H187.6V264.8ZM187.6 264.8V264.1H192.4V264.8ZM192.4 264.8V263.9H197.2V264.8ZM197.2 264.8V263.6H202V264.8ZM202 264.8V260.6H206.8V264.8ZM206.8 264.8V257.5H211.6V264.8ZM211.6 264.8V242.6H216.4V264.8ZM216.4 264.8V226.4H221.2V264.8ZM221.2 264.8V202.5H226V264.8ZM226 264.8V155.6H230.8V264.8ZM230.8 264.8V213.3H235.6V264.8ZM235.6 264.8V240H240.4V264.8ZM240.4 264.8V256.4H245.2V264.8ZM245.2 264.8V262.6H250V264.8ZM250 264.8V264H254.8V264.8ZM254.8 264.8V264.2H259.6V264.8ZM259.6 264.8V264.3H264.4V264.8Z" fill="#00BFC4" fill-opacity="0.5" stroke="#000" stroke-width="0.9" stroke-linejoin="miter"/>
<rect x="163.6" y="150.4" width="104.8" height="119.7" fill="none" stroke="#999999" stroke-width="1.0"/>
<line x1="161" y1="264.8" x2="163.6" y2="264.8" stroke="#333333" stroke-width="0.9"/>
<text x="159" y="267.8" text-anchor="end" class="lab">0.0</text>
<line x1="161" y1="231.43" x2="163.6" y2="231.43" stroke="#333333" stroke-width="0.9"/>
<text x="159" y="234.43" text-anchor="end" class="lab">0.1</text>
<line x1="161" y1="198.07" x2="163.6" y2="198.07" stroke="#333333" stroke-width="0.9"/>
<text x="159" y="201.07" text-anchor="end" class="lab">0.2</text>
<line x1="161" y1="164.7" x2="163.6" y2="164.7" stroke="#333333" stroke-width="0.9"/>
<text x="159" y="167.7" text-anchor="end" class="lab">0.3</text>
<line x1="170.3" y1="270.1" x2="170.3" y2="272.7" stroke="#333333" stroke-width="0.9"/>
<text x="170.3" y="279.6" text-anchor="middle" class="lab">0</text>
<line x1="201.7" y1="270.1" x2="201.7" y2="272.7" stroke="#333333" stroke-width="0.9"/>
<text x="201.7" y="279.6" text-anchor="middle" class="lab">2</text>
<line x1="233.1" y1="270.1" x2="233.1" y2="272.7" stroke="#333333" stroke-width="0.9"/>
<text x="233.1" y="279.6" text-anchor="middle" class="lab">4</text>
<line x1="264.5" y1="270.1" x2="264.5" y2="272.7" stroke="#333333" stroke-width="0.9"/>
<text x="264.5" y="279.6" text-anchor="middle" class="lab">6</text>
<text x="216" y="289.7" text-anchor="middle" class="ttl">Log(followed+1)</text>
<rect x="306.9" y="150.4" width="100.5" height="119.7" fill="#fff"/>
<line x1="311.48" y1="150.4" x2="311.48" y2="270.1" stroke="#EBEBEB" stroke-width="0.45"/>
<line x1="341.73" y1="150.4" x2="341.73" y2="270.1" stroke="#EBEBEB" stroke-width="0.45"/>
<line x1="371.98" y1="150.4" x2="371.98" y2="270.1" stroke="#EBEBEB" stroke-width="0.45"/>
<line x1="402.23" y1="150.4" x2="402.23" y2="270.1" stroke="#EBEBEB" stroke-width="0.45"/>
<line x1="306.9" y1="249.13" x2="407.4" y2="249.13" stroke="#EBEBEB" stroke-width="0.45"/>
<line x1="306.9" y1="217.8" x2="407.4" y2="217.8" stroke="#EBEBEB" stroke-width="0.45"/>
<line x1="306.9" y1="186.47" x2="407.4" y2="186.47" stroke="#EBEBEB" stroke-width="0.45"/>
<line x1="306.9" y1="155.13" x2="407.4" y2="155.13" stroke="#EBEBEB" stroke-width="0.45"/>
<line x1="326.6" y1="150.4" x2="326.6" y2="270.1" stroke="#EBEBEB" stroke-width="0.9"/>
<line x1="356.85" y1="150.4" x2="356.85" y2="270.1" stroke="#EBEBEB" stroke-width="0.9"/>
<line x1="387.1" y1="150.4" x2="387.1" y2="270.1" stroke="#EBEBEB" stroke-width="0.9"/>
<line x1="306.9" y1="264.8" x2="407.4" y2="264.8" stroke="#EBEBEB" stroke-width="0.9"/>
<line x1="306.9" y1="233.47" x2="407.4" y2="233.47" stroke="#EBEBEB" stroke-width="0.9"/>
<line x1="306.9" y1="202.13" x2="407.4" y2="202.13" stroke="#EBEBEB" stroke-width="0.9"/>
<line x1="306.9" y1="170.8" x2="407.4" y2="170.8" stroke="#EBEBEB" stroke-width="0.9"/>
<path d="M311.2 264.8V247.5H341.7V264.8ZM372.2 264.8V155.5H402.6V264.8Z" fill="#F8766D" fill-opacity="0.5" stroke="#000" stroke-width="0.9" stroke-linejoin="miter"/>
<path d="M311.2 264.8V245.4H341.7V264.8ZM372.2 264.8V157.4H402.6V264.8Z" fill="#00BFC4" fill-opacity="0.5" stroke="#000" stroke-width="0.9" stroke-linejoin="miter"/>
<line x1="341.7" y1="264.8" x2="372.2" y2="264.8" stroke="#6A6A6A" stroke-width="0.9"/>
<rect x="306.9" y="150.4" width="100.5" height="119.7" fill="none" stroke="#999999" stroke-width="1.0"/>
<line x1="304.3" y1="264.8" x2="306.9" y2="264.8" stroke="#333333" stroke-width="0.9"/>
<text x="302.3" y="267.8" text-anchor="end" class="lab">0.00</text>
<line x1="304.3" y1="233.47" x2="306.9" y2="233.47" stroke="#333333" stroke-width="0.9"/>
<text x="302.3" y="236.47" text-anchor="end" class="lab">0.25</text>
<line x1="304.3" y1="202.13" x2="306.9" y2="202.13" stroke="#333333" stroke-width="0.9"/>
<text x="302.3" y="205.13" text-anchor="end" class="lab">0.50</text>
<line x1="304.3" y1="170.8" x2="306.9" y2="170.8" stroke="#333333" stroke-width="0.9"/>
<text x="302.3" y="173.8" text-anchor="end" class="lab">0.75</text>
<line x1="326.6" y1="270.1" x2="326.6" y2="272.7" stroke="#333333" stroke-width="0.9"/>
<text x="326.6" y="279.6" text-anchor="middle" class="lab">No</text>
<line x1="356.85" y1="270.1" x2="356.85" y2="272.7" stroke="#333333" stroke-width="0.9"/>
<line x1="387.1" y1="270.1" x2="387.1" y2="272.7" stroke="#333333" stroke-width="0.9"/>
<text x="387.1" y="279.6" text-anchor="middle" class="lab">Yes</text>
<text x="357.15" y="289.7" text-anchor="middle" class="ttl">Exists now</text>
<rect x="441.6" y="150.4" width="104.4" height="119.7" fill="#fff"/>
<line x1="445.85" y1="150.4" x2="445.85" y2="270.1" stroke="#EBEBEB" stroke-width="0.45"/>
<line x1="477.75" y1="150.4" x2="477.75" y2="270.1" stroke="#EBEBEB" stroke-width="0.45"/>
<line x1="509.65" y1="150.4" x2="509.65" y2="270.1" stroke="#EBEBEB" stroke-width="0.45"/>
<line x1="541.55" y1="150.4" x2="541.55" y2="270.1" stroke="#EBEBEB" stroke-width="0.45"/>
<line x1="441.6" y1="246.95" x2="546" y2="246.95" stroke="#EBEBEB" stroke-width="0.45"/>
<line x1="441.6" y1="211.25" x2="546" y2="211.25" stroke="#EBEBEB" stroke-width="0.45"/>
<line x1="441.6" y1="175.55" x2="546" y2="175.55" stroke="#EBEBEB" stroke-width="0.45"/>
<line x1="461.8" y1="150.4" x2="461.8" y2="270.1" stroke="#EBEBEB" stroke-width="0.9"/>
<line x1="493.7" y1="150.4" x2="493.7" y2="270.1" stroke="#EBEBEB" stroke-width="0.9"/>
<line x1="525.6" y1="150.4" x2="525.6" y2="270.1" stroke="#EBEBEB" stroke-width="0.9"/>
<line x1="441.6" y1="264.8" x2="546" y2="264.8" stroke="#EBEBEB" stroke-width="0.9"/>
<line x1="441.6" y1="229.1" x2="546" y2="229.1" stroke="#EBEBEB" stroke-width="0.9"/>
<line x1="441.6" y1="193.4" x2="546" y2="193.4" stroke="#EBEBEB" stroke-width="0.9"/>
<line x1="441.6" y1="157.7" x2="546" y2="157.7" stroke="#EBEBEB" stroke-width="0.9"/>
<path d="M445.5 264.8V155.3H477.8V264.8ZM509.4 264.8V195.2H541.6V264.8Z" fill="#F8766D" fill-opacity="0.5" stroke="#000" stroke-width="0.9" stroke-linejoin="miter"/>
<path d="M445.5 264.8V159.3H477.8V264.8ZM509.4 264.8V191.3H541.6V264.8Z" fill="#00BFC4" fill-opacity="0.5" stroke="#000" stroke-width="0.9" stroke-linejoin="miter"/>
<line x1="477.8" y1="264.8" x2="509.4" y2="264.8" stroke="#6A6A6A" stroke-width="0.9"/>
<rect x="441.6" y="150.4" width="104.4" height="119.7" fill="none" stroke="#999999" stroke-width="1.0"/>
<line x1="439" y1="264.8" x2="441.6" y2="264.8" stroke="#333333" stroke-width="0.9"/>
<text x="437" y="267.8" text-anchor="end" class="lab">0.0</text>
<line x1="439" y1="229.1" x2="441.6" y2="229.1" stroke="#333333" stroke-width="0.9"/>
<text x="437" y="232.1" text-anchor="end" class="lab">0.2</text>
<line x1="439" y1="193.4" x2="441.6" y2="193.4" stroke="#333333" stroke-width="0.9"/>
<text x="437" y="196.4" text-anchor="end" class="lab">0.4</text>
<line x1="439" y1="157.7" x2="441.6" y2="157.7" stroke="#333333" stroke-width="0.9"/>
<text x="437" y="160.7" text-anchor="end" class="lab">0.6</text>
<line x1="461.8" y1="270.1" x2="461.8" y2="272.7" stroke="#333333" stroke-width="0.9"/>
<text x="461.8" y="279.6" text-anchor="middle" class="lab">Male</text>
<line x1="493.7" y1="270.1" x2="493.7" y2="272.7" stroke="#333333" stroke-width="0.9"/>
<line x1="525.6" y1="270.1" x2="525.6" y2="272.7" stroke="#333333" stroke-width="0.9"/>
<text x="525.6" y="279.6" text-anchor="middle" class="lab">Female</text>
<text x="493.8" y="289.7" text-anchor="middle" class="ttl">Gender</text>
<rect x="581.5" y="209.2" width="13.2" height="13.6" fill="#F8766D" fill-opacity="0.5" stroke="#000" stroke-width="0.9"/>
<rect x="581.5" y="222.8" width="13.2" height="13.8" fill="#00BFC4" fill-opacity="0.5" stroke="#000" stroke-width="0.9"/>
<text x="600.1" y="218.6" class="leg">Do not follow–back</text>
<text x="600.1" y="232.5" class="leg">In experiment</text>
</svg>
</body></html>
